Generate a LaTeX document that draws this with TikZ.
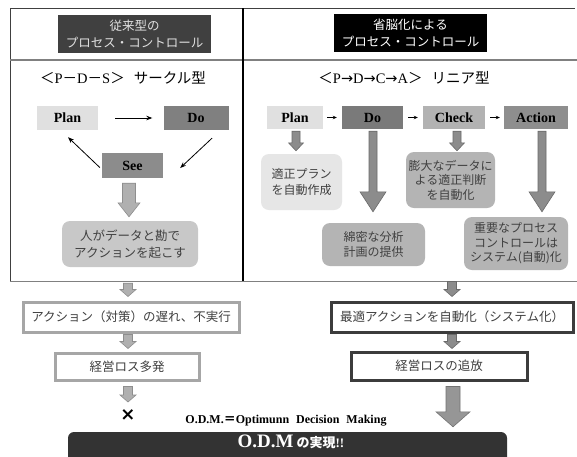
\documentclass[tikz,border=0pt]{standalone}
\usepackage{fontspec}
\setmainfont{Liberation Serif}
\newfontfamily\jp{Noto Sans CJK JP}
\newfontfamily\dv{DejaVu Sans}
\usetikzlibrary{calc,arrows.meta}
\definecolor{hdrL}{HTML}{404040}
\definecolor{hdrtxt}{HTML}{E0E0E0}
\definecolor{cPlan}{HTML}{E0E0E0}
\definecolor{cDoL}{HTML}{808080}
\definecolor{cSee}{HTML}{8C8C8C}
\definecolor{cHuman}{HTML}{C8C8C8}
\definecolor{cDoR}{HTML}{7A7A7A}
\definecolor{cCheck}{HTML}{B2B2B2}
\definecolor{cAction}{HTML}{8E8E8E}
\definecolor{cLight}{HTML}{E6E6E6}
\definecolor{cMid}{HTML}{B4B4B4}
\definecolor{ctext}{HTML}{404040}
\definecolor{aLfill}{HTML}{B0B0B0}
\definecolor{aLdraw}{HTML}{8E8E8E}
\definecolor{aRfill}{HTML}{8C8C8C}
\definecolor{aRdraw}{HTML}{6A6A6A}
\definecolor{bLdraw}{HTML}{A6A6A6}
\definecolor{bRdraw}{HTML}{3C3C3C}
\definecolor{odmfill}{HTML}{333333}
\tikzset{
  sq/.style={inner sep=0pt, font=\bfseries\fontsize{14}{16}\selectfont, text=black},
  rbox/.style={rounded corners=8pt, inner sep=0pt, align=center, text=ctext,
    font=\jp\fontsize{12}{15.5}\selectfont},
  flowL/.style={inner sep=0pt, align=center, fill=white, draw=bLdraw, line width=3pt,
    text=ctext, font=\jp\fontsize{12.5}{14}\selectfont},
  flowR/.style={flowL, draw=bRdraw},
  thinarr/.style={-{Stealth[length=6pt,width=4.5pt]}, line width=0.8pt},
  tinyarr/.style={-{Stealth[length=4pt,width=3.5pt]}, line width=0.7pt},
  blkL/.style={fill=aLfill, draw=aLdraw, line width=0.6pt},
  blkR/.style={fill=aRfill, draw=aRdraw, line width=0.6pt},
}
% #1 style, #2 start, #3 end (y only), #4 half shaft, #5 half head, #6 head length
\newcommand{\blkarrow}[6]{%
  \path[#1] let \p1=#2, \p2=#3 in
    (\x1-#4,\y1) -- (\x1+#4,\y1) -- (\x1+#4,\y2+#6) -- (\x1+#5,\y2+#6) --
    (\x1,\y2) -- (\x1-#5,\y2+#6) -- (\x1-#4,\y2+#6) -- cycle;}
\begin{document}
\begin{tikzpicture}[x=1pt,y=-1pt]
\useasboundingbox (0,0) rectangle (577,456);
\clip (0,0) rectangle (577,456);
\fill[white] (0,0) rectangle (577,456);

% table lines
\draw[hdrL, line width=1pt] (10,8) -- (575,8);
\draw[hdrL, line width=1pt] (10,8) -- (10,281);
\draw[gray, line width=1.5pt] (10,60) -- (577,60);
\draw[gray, line width=1pt] (10,281) -- (577,281);
\draw[black, line width=2.6pt] (243,8) -- (243,281);

% headers
\node[fill=hdrL, text=hdrtxt, inner sep=0pt, minimum width=153pt, minimum height=38pt,
  align=center, font=\jp\fontsize{12.5}{17}\selectfont] (hl) at (134.5,34) {従来型の\\プロセス・コントロール};
\node[fill=black, text=white, inner sep=0pt, minimum width=153pt, minimum height=38pt,
  align=center, font=\jp\fontsize{12.5}{17}\selectfont] (hr) at (410.5,33) {省脳化による\\プロセス・コントロール};

% subtitles
\node[inner sep=0pt, font=\fontsize{14.5}{16}\selectfont] (sl) at (123,78)
  {{\jp ＜}P{\jp －}D{\jp －}S{\jp ＞}\hspace{9pt}{\jp サークル型}};
\node[inner sep=0pt, font=\fontsize{14.5}{16}\selectfont] (sr) at (404,78)
  {{\jp ＜}P{\dv →}D{\dv →}C{\dv →}A{\jp ＞}\hspace{9pt}{\jp リニア型}};

% left cycle
\node[sq, fill=cPlan, minimum width=61pt, minimum height=24pt] (plan1) at (67.5,118) {Plan};
\node[sq, fill=cDoL, minimum width=65pt, minimum height=24pt] (do1) at (196,118) {Do};
\node[sq, fill=cSee, minimum width=61pt, minimum height=25pt] (see) at (132.5,165.5) {See};
\draw[thinarr, shorten <=17pt, shorten >=11pt] (plan1) -- (do1);
\draw[thinarr] ($(see.west)+(-2,2)$) -- ($(plan1.south)+(0.5,7)$);
\draw[thinarr] ($(do1.south)+(16,8)$) -- ($(see.east)+(17,2.5)$);
\node[rbox, fill=cHuman, minimum width=136pt, minimum height=46pt,
  font=\jp\fontsize{12.5}{16.5}\selectfont] (human) at (130,244) {人がデータと勘で\\アクションを起こす};
\blkarrow{blkL}{($(see.south)+(-3.5,5)$)}{($(human.north)+(0,-4)$)}{6.5pt}{11pt}{14pt}

% right linear
\node[sq, fill=cPlan, minimum width=56pt, minimum height=23pt] (plan2) at (295,117.5) {Plan};
\node[sq, fill=cDoR, minimum width=61pt, minimum height=23pt] (do2) at (372.5,117.5) {Do};
\node[sq, fill=cCheck, minimum width=62pt, minimum height=23pt] (check) at (454,117.5) {Check};
\node[sq, fill=cAction, minimum width=64pt, minimum height=23pt] (action) at (536,117.5) {Action};
\draw[tinyarr, shorten <=4pt, shorten >=5pt] (plan2) -- (do2);
\draw[tinyarr, shorten <=5pt, shorten >=5pt] (do2) -- (check);
\draw[tinyarr, shorten <=5pt, shorten >=4pt] (check) -- (action);

\node[rbox, fill=cLight, minimum width=81pt, minimum height=56pt] (r1) at (301.5,182) {適正プラン\\を自動作成};
\node[rbox, fill=cMid, minimum width=103pt, minimum height=43pt] (r2) at (373.5,244.5) {綿密な分析\\計画の提供};
\node[rbox, fill=cMid, minimum width=89pt, minimum height=56pt,
  font=\jp\fontsize{12}{14.5}\selectfont] (r3) at (450.5,180) {膨大なデータに\\よる適正判断\\を自動化};
\node[rbox, fill=cMid, minimum width=104pt, minimum height=53pt,
  font=\jp\fontsize{12}{14.5}\selectfont] (r4) at (516,243.5) {重要なプロセス\\コントロールは\\システム(自動)化};

\blkarrow{blkR}{($(plan2.south)+(1,2)$)}{($(r1.north)+(0,-3)$)}{4pt}{7.5pt}{8pt}
\blkarrow{blkR}{($(do2.south)+(0.5,2)$)}{($(r2.north)+(0,-11)$)}{4pt}{13pt}{20pt}
\blkarrow{blkR}{($(check.south)+(3,2)$)}{($(r3.north)+(0,-1)$)}{4pt}{7.5pt}{8pt}
\blkarrow{blkR}{($(action.south)+(6,2)$)}{($(r4.north)+(0,-5)$)}{4pt}{13pt}{20pt}

% bottom left flow
\node[flowL, minimum width=216pt, minimum height=30pt] (bl1) at (131,317) {アクション（対策）の遅れ、不実行};
\node[flowL, minimum width=144pt, minimum height=27pt] (bl2) at (127,366.5) {経営ロス多発};
\node[inner sep=0pt, font=\dv\bfseries\fontsize{18}{18}\selectfont] (cross) at (128,415) {×};
\blkarrow{blkL}{($(human.south)+(-2,16)$)}{($(bl1.north)+(0,-4)$)}{4.5pt}{8pt}{7pt}
\blkarrow{blkL}{($(bl1.south)+(-3,1)$)}{($(bl2.north)+(0,-3)$)}{4.5pt}{8pt}{7pt}
\blkarrow{blkL}{($(bl2.south)+(1,5)$)}{($(cross)+(0,-13)$)}{4.5pt}{8pt}{7pt}

% bottom right flow
\node[flowR, minimum width=242pt, minimum height=30pt] (br1) at (452,317) {最適アクションを自動化（システム化）};
\node[flowR, minimum width=176pt, minimum height=28pt] (br2) at (439,366) {経営ロスの追放};
\blkarrow{blkR}{($(br1.north)+(0,-19)$)}{($(br1.north)+(0,-4)$)}{4.5pt}{8pt}{7pt}
\blkarrow{blkR}{($(br1.south)+(0,1)$)}{($(br2.north)+(13,-2)$)}{4.5pt}{8pt}{7pt}

% ODM
\node[inner sep=0pt, font=\bfseries\fontsize{12}{13}\selectfont] (def) at (286,421)
  {O.D.M.{\jp ＝}Optimunn\hspace{7pt}Decision\hspace{7pt}Making};
\node[fill=odmfill, rounded corners=6pt, minimum width=439pt, minimum height=36pt, inner sep=0pt] (odm) at (287.5,450) {};
\node[text=white, inner sep=0pt, anchor=base] (odmt) at (291,447)
  {\bfseries\fontsize{19}{20}\selectfont O.D.M\hspace{3pt}{\jp\fontsize{13}{14}\selectfont の実現}\fontsize{13}{14}\selectfont!!};
\blkarrow{fill=aLfill!85!black, draw=aLdraw!80!black, line width=0.6pt}{($(br2.south)+(14,5)$)}{($(odm.north)+(0,-5)$)}{7pt}{17pt}{15pt}
\end{tikzpicture}
\end{document}
